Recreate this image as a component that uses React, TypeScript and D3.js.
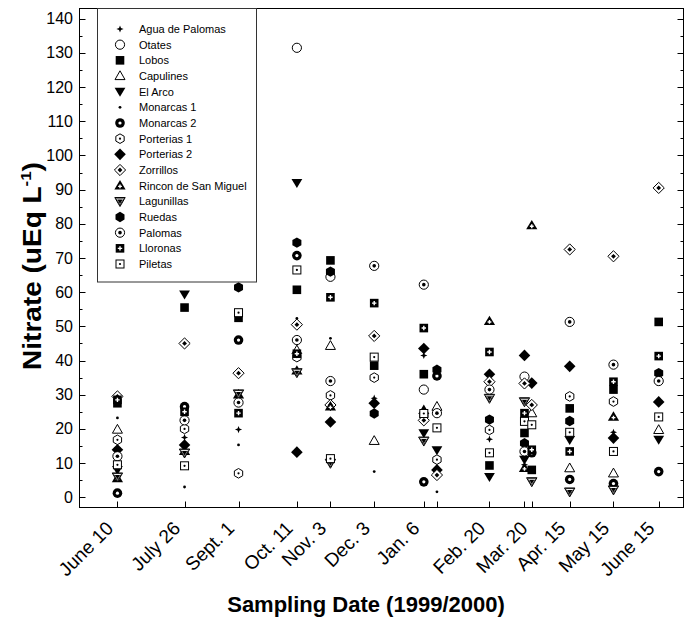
import { useEffect, useRef } from "react";
import * as d3 from "d3";

// sampling dates (Jan 15 and Mar 15 are extra, unlabelled samplings)
const sampleDates = [
  "1999-06-10", "1999-07-26", "1999-09-01", "1999-10-11", "1999-11-03", "1999-12-03", "2000-01-06",
  "2000-01-15", "2000-02-20", "2000-03-15", "2000-03-20", "2000-04-15", "2000-05-15", "2000-06-15"
];
const dateLabels = [
  "June 10", "July 26", "Sept. 1", "Oct. 11", "Nov. 3", "Dec. 3", "Jan. 6",
  "", "Feb. 20", "", "Mar. 20", "Apr. 15", "May 15", "June 15"
];

// nitrate per site, one value per sampling date (null = not sampled)
const aguaDePalomas = [14.5, 17.5, 19.8, null, null, 29, 41.5, null, 17, 9.5, null, null, 19, null];
const otates = [null, null, null, 131.5, 64.5, null, 31.5, null, null, 35.3, null, null, null, null];
const lobos = [27.5, 55.5, 52.5, 60.7, 69.3, 38.5, 36, null, 9.3, 18.8, 8, 26, 31.5, 51.3];
const capulines = [19.8, null, null, 43, 44.3, 16.5, null, 26.5, null, null, 24.6, 8.5, 7, 19.7];
const elArco = [8, 59.4, null, 92, null, null, 18.8, 13.8, 6, 11, null, 16.8, null, 16.9];
const monarcas1 = [23.2, 3, 15.3, 52.3, 46.5, 7.5, null, 1.6, null, null, null, null, null, null];
const monarcas2 = [1.2, 26.5, 46, 70.7, null, null, 4.5, 35.5, null, null, 13, 5.2, 4, 7.5];
const porterias1 = [16.8, 20, 7, 41, 29.8, 35, 24, 11, 19.7, null, null, 29.5, 28, null];
const porterias2 = [13.9, 15.3, null, 13.2, 22, 27.5, 43.5, 8, 36, 41.5, 33.4, 38.3, 17.3, 27.9];
const zorrillos = [29.5, 45, 36.3, 50.5, 27, 47.2, 22.5, 6.5, 33.8, 33.3, 27, 72.5, 70.5, 90.5];
const rinconSanMiguel = [5.5, 13.5, 30, 37, 26.5, null, 25.5, null, 51.5, 8.5, 79.5, null, 23.5, null];
const lagunillas = [6, 13, 30.3, 36.5, 10, null, 16.5, null, 29, 28, 4.6, 1.6, 2.2, null];
const ruedas = [null, null, 61.4, 74.5, 66, 24.5, null, 37.3, 22.7, 15.8, null, 22.3, null, 36.3];
const palomas = [12, 22.5, 27.7, 46, 34, 67.7, 62.2, 24.6, 31.5, 13.4, null, 51.3, 38.8, 34];
const lloronas = [28.5, 25, 24.6, 42, 58.5, 56.8, 49.5, null, 42.5, 24.6, 13.9, 13.4, 33.8, 41.3];
const piletas = [9.5, 9.2, 54, 66.5, 11.3, 41, 24.5, 20.3, 13, 22.2, 21.2, 19, 13.4, 23.5];

const siteNames = [
  "Agua de Palomas", "Otates", "Lobos", "Capulines", "El Arco", "Monarcas 1", "Monarcas 2", "Porterias 1",
  "Porterias 2", "Zorrillos", "Rincon de San Miguel", "Lagunillas", "Ruedas", "Palomas", "Lloronas", "Piletas"
];
const siteValues = [
  aguaDePalomas, otates, lobos, capulines, elArco, monarcas1, monarcas2, porterias1,
  porterias2, zorrillos, rinconSanMiguel, lagunillas, ruedas, palomas, lloronas, piletas
];
const siteMarkers = [
  "star", "circleOpen", "square", "triUpOpen", "triDown", "dot", "ring", "hexDot",
  "diamond", "diamondDot", "triUpHollow", "triDownHatch", "hex", "circleDot", "squarePlus", "squareDot"
];

const yTicks = d3.range(0, 141, 10);
const yMinorTicks = d3.range(5, 141, 10);

const FONT = "'Liberation Sans', Arial, sans-serif";

type G = d3.Selection<SVGGElement, unknown, null, undefined>;

function polygon(r: number, n: number, start: number) {
  return d3.range(n).map((i) => {
    const a = start + (i * 2 * Math.PI) / n;
    return [r * Math.cos(a), r * Math.sin(a)];
  });
}
const pts = (p: number[][]) => p.map((q) => q.join(",")).join(" ");

function drawMarker(g: G, kind: string) {
  const k = "#000";
  const w = "#fff";
  switch (kind) {
    case "star":
      g.append("path").attr("d", "M0,-3.6L1,-1L3.6,0L1,1L0,3.6L-1,1L-3.6,0L-1,-1Z").attr("fill", k);
      break;
    case "circleOpen":
      g.append("circle").attr("r", 4.6).attr("fill", w).attr("stroke", k).attr("stroke-width", 1);
      break;
    case "square":
      g.append("rect").attr("x", -4.3).attr("y", -4.3).attr("width", 8.6).attr("height", 8.6).attr("fill", k);
      break;
    case "triUpOpen":
      g.append("polygon").attr("points", pts([[0, -5.2], [5, 3.6], [-5, 3.6]])).attr("fill", w).attr("stroke", k);
      break;
    case "triDown":
      g.append("polygon").attr("points", pts([[0, 5.2], [5.4, -3.8], [-5.4, -3.8]])).attr("fill", k);
      break;
    case "dot":
      g.append("circle").attr("r", 1.4).attr("fill", k);
      break;
    case "ring":
      g.append("circle").attr("r", 4.8).attr("fill", k);
      g.append("circle").attr("r", 1.6).attr("fill", w);
      break;
    case "hexDot":
      g.append("polygon").attr("points", pts(polygon(4.8, 6, -Math.PI / 2))).attr("fill", w).attr("stroke", k);
      g.append("circle").attr("r", 1.1).attr("fill", k);
      break;
    case "diamond":
      g.append("polygon").attr("points", pts([[0, -5.8], [5.8, 0], [0, 5.8], [-5.8, 0]])).attr("fill", k);
      break;
    case "diamondDot":
      g.append("polygon").attr("points", pts([[0, -5.6], [5.6, 0], [0, 5.6], [-5.6, 0]])).attr("fill", w).attr("stroke", k);
      g.append("polygon").attr("points", pts([[0, -2.4], [2.4, 0], [0, 2.4], [-2.4, 0]])).attr("fill", k);
      break;
    case "triUpHollow":
      g.append("polygon").attr("points", pts([[0, -5.6], [5.6, 3.8], [-5.6, 3.8]])).attr("fill", k);
      g.append("path").attr("d", "M-0.7,-1.2h1.4v1.2h1.2v1.4h-1.2v1.2h-1.4v-1.2h-1.2v-1.4h1.2Z").attr("fill", w);
      break;
    case "triDownHatch":
      g.append("polygon").attr("points", pts([[0, 5.2], [5.2, -3.8], [-5.2, -3.8]])).attr("fill", w).attr("stroke", k);
      g.append("polygon").attr("points", pts([[0, 2.6], [2.6, -1.8], [-2.6, -1.8]])).attr("fill", k);
      g.append("path").attr("d", "M-3.6,-2.2L0,3.8M3.6,-2.2L0,3.8M-4.4,-3.2L4.4,-3.2").attr("stroke", k).attr("stroke-width", 0.8);
      break;
    case "hex":
      g.append("polygon").attr("points", pts(polygon(5.2, 6, -Math.PI / 2))).attr("fill", k);
      break;
    case "circleDot":
      g.append("circle").attr("r", 4.6).attr("fill", w).attr("stroke", k);
      g.append("circle").attr("r", 1.8).attr("fill", k);
      break;
    case "squarePlus":
      g.append("rect").attr("x", -4.3).attr("y", -4.3).attr("width", 8.6).attr("height", 8.6).attr("fill", k);
      g.append("path").attr("d", "M-0.7,-2.2h1.4v1.5h1.5v1.4h-1.5v1.5h-1.4v-1.5h-1.5v-1.4h1.5Z").attr("fill", w);
      break;
    case "squareDot":
      g.append("rect").attr("x", -4).attr("y", -4).attr("width", 8).attr("height", 8).attr("fill", w).attr("stroke", k);
      g.append("circle").attr("r", 1.1).attr("fill", k);
      break;
  }
}

function NitrateChart() {
  const ref = useRef<SVGSVGElement>(null);

  useEffect(() => {
    if (!ref.current) return;
    const plot = { left: 79.5, right: 683.5, top: 8.5, bottom: 507.5 };

    const svg = d3.select(ref.current);
    svg.selectAll("*").remove();

    const parse = d3.utcParse("%Y-%m-%d");
    const dates = sampleDates.map((d) => parse(d) as Date);
    const x = d3
      .scaleUtc()
      .domain([parse("1999-05-15") as Date, parse("2000-07-02") as Date])
      .range([plot.left, plot.right]);
    const y = d3.scaleLinear().domain([-3, 143]).range([plot.bottom, plot.top]);

    const axes = svg.append("g").attr("stroke", "#000").attr("stroke-width", 1).attr("fill", "none");
    axes
      .append("rect")
      .attr("x", plot.left)
      .attr("y", plot.top)
      .attr("width", plot.right - plot.left)
      .attr("height", plot.bottom - plot.top);

    // y ticks on both sides, pointing inward
    yTicks.forEach((v) => {
      const yy = Math.round(y(v)) + 0.5;
      axes.append("line").attr("x1", plot.left).attr("x2", plot.left + 6).attr("y1", yy).attr("y2", yy);
      axes.append("line").attr("x1", plot.right).attr("x2", plot.right - 6).attr("y1", yy).attr("y2", yy);
    });
    yMinorTicks.forEach((v) => {
      const yy = Math.round(y(v)) + 0.5;
      axes.append("line").attr("x1", plot.left).attr("x2", plot.left + 3).attr("y1", yy).attr("y2", yy);
      axes.append("line").attr("x1", plot.right).attr("x2", plot.right - 3).attr("y1", yy).attr("y2", yy);
    });
    dates.forEach((d) => {
      const xx = Math.round(x(d)) + 0.5;
      axes.append("line").attr("x1", xx).attr("x2", xx).attr("y1", plot.bottom).attr("y2", plot.bottom - 6);
    });

    svg
      .append("g")
      .selectAll("text")
      .data(yTicks)
      .join("text")
      .attr("x", 73)
      .attr("y", (v) => y(v) + 5.5)
      .attr("text-anchor", "end")
      .style("font-family", FONT)
      .style("font-size", "16px")
      .text((v) => v);

    svg
      .append("g")
      .selectAll("text")
      .data(dates.map((d, i) => ({ d, label: dateLabels[i] })).filter((t) => t.label))
      .join("text")
      .attr("transform", (t) => `translate(${x(t.d) - 3},${plot.bottom + 22}) rotate(-45)`)
      .attr("text-anchor", "end")
      .style("font-family", FONT)
      .style("font-size", "19px")
      .text((t) => t.label);

    svg
      .append("text")
      .attr("x", 366)
      .attr("y", 612)
      .attr("text-anchor", "middle")
      .style("font-family", FONT)
      .style("font-size", "22px")
      .style("font-weight", "bold")
      .text("Sampling Date (1999/2000)");

    const yTitle = svg
      .append("text")
      .attr("transform", "translate(41,266) rotate(-90) scale(1.12,1)")
      .attr("text-anchor", "middle")
      .style("font-family", FONT)
      .style("font-size", "25px")
      .style("font-weight", "bold");
    yTitle.append("tspan").text("Nitrate (uEq L");
    yTitle.append("tspan").attr("dy", -10).style("font-size", "15px").text("-1");
    yTitle.append("tspan").attr("dy", 10).text(")");

    // data points
    const marks = svg.append("g");
    siteValues.forEach((values, s) => {
      values.forEach((v, i) => {
        if (v == null) return;
        const g = marks.append("g").attr("transform", `translate(${x(dates[i])},${y(v)})`) as G;
        drawMarker(g, siteMarkers[s]);
      });
    });

    // legend
    const legend = svg.append("g");
    legend
      .append("rect")
      .attr("x", 97.5)
      .attr("y", plot.top)
      .attr("width", 159)
      .attr("height", 273.5)
      .attr("fill", "#fff")
      .attr("stroke", "#333");
    const rowY = d3.scaleLinear().domain([0, siteNames.length - 1]).range([29, 264]);
    siteNames.forEach((name, i) => {
      const g = legend.append("g").attr("transform", `translate(120,${rowY(i)})`) as G;
      drawMarker(g, siteMarkers[i]);
      legend
        .append("text")
        .attr("x", 139)
        .attr("y", rowY(i) + 4)
        .style("font-family", FONT)
        .style("font-size", "11px")
        .text(name);
    });
  }, []);

  return (
    <svg
      ref={ref}
      width={684}
      height={619}
      style={{ position: "absolute", left: 0, top: 0, background: "#fff" }}
    />
  );
}

export default function App() {
  return <NitrateChart />;
}
